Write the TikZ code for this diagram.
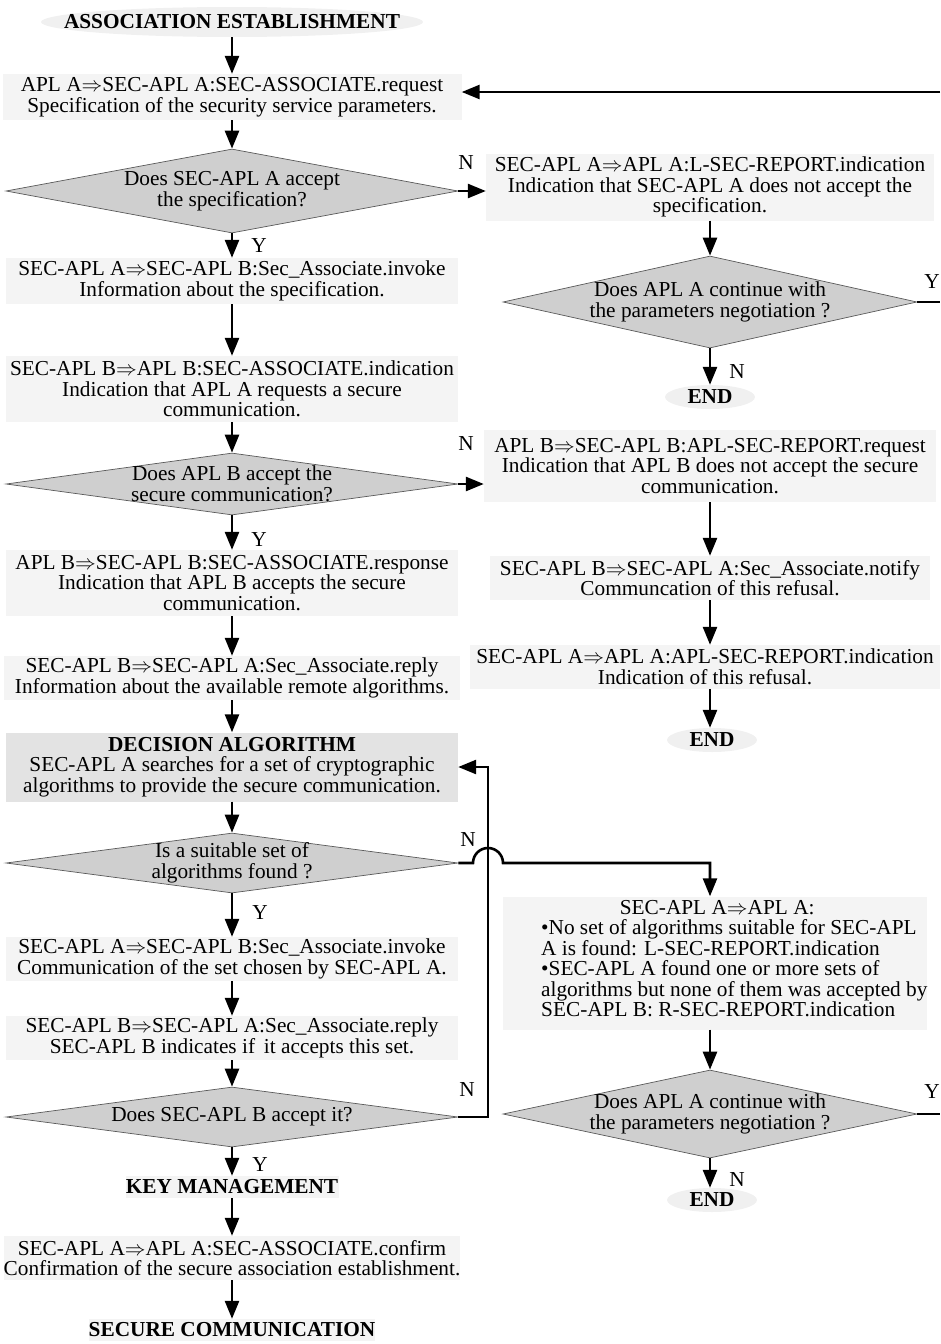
\documentclass[tikz,border=0pt]{standalone}
\usepackage{fontspec}
\setmainfont{Liberation Serif}
\usetikzlibrary{shapes.geometric,arrows.meta}
\newcommand{\RA}{$\Rightarrow$}
\newcommand{\fs}{\fontsize{21.3}{20.5}\selectfont}
\begin{document}
\begin{tikzpicture}[x=1pt,y=-1pt,
  every node/.style={font=\fs, inner sep=0pt},
  txtbox/.style={rectangle, fill=gray!9, align=center},
  darkbox/.style={rectangle, fill=gray!22, align=center},
  dia/.style={diamond, fill=gray!38, draw=black!65, line width=0.7pt},
  dtxt/.style={align=center},
  oval/.style={ellipse, fill=gray!12},
  boldtxt/.style={font=\fs\bfseries},
  flow/.style={line width=2.6pt, -{Triangle[length=18pt,width=14pt]}},
  wire/.style={line width=2.6pt},
  lbl/.style={font=\fs}
]
\useasboundingbox (0,0) rectangle (940,1344);

% ---------------- main column ----------------
\node[oval, minimum width=382, minimum height=30] (title) at (232,22) {};
\node[boldtxt] (titlet) at (title) {ASSOCIATION ESTABLISHMENT};
\node[txtbox, minimum width=459, minimum height=46] (b1) at (232,97)
  {APL A\RA SEC-APL A:SEC-ASSOCIATE.request\\Specification of the security service parameters.};
\node[dia, minimum width=452, minimum height=84] (d1) at (232,191) {};
\node[dtxt] (d1t) at (d1) {Does SEC-APL A accept\\the specification?};
\node[txtbox, minimum width=452, minimum height=46] (b2) at (232,281)
  {SEC-APL A\RA SEC-APL B:Sec\_Associate.invoke\\Information about the specification.};
\node[txtbox, minimum width=452, minimum height=66] (b3) at (232,389)
  {SEC-APL B\RA APL B:SEC-ASSOCIATE.indication\\Indication that APL A requests a secure\\communication.};
\node[dia, minimum width=452, minimum height=62] (d2) at (232,484) {};
\node[dtxt] (d2t) at (d2) {Does APL B accept the\\secure communication?};
\node[txtbox, minimum width=452, minimum height=66] (b4) at (232,583)
  {APL B\RA SEC-APL B:SEC-ASSOCIATE.response\\Indication that APL B accepts the secure\\communication.};
\node[txtbox, minimum width=456, minimum height=44] (b5) at (232,678)
  {SEC-APL B\RA SEC-APL A:Sec\_Associate.reply\\Information about the available remote algorithms.};
\node[darkbox, minimum width=452, minimum height=69] (b6) at (232,767)
  {\textbf{DECISION ALGORITHM}\\SEC-APL A searches for a set of cryptographic\\algorithms to provide the secure communication.};
\node[dia, minimum width=452, minimum height=60] (d3) at (232,863) {};
\node[dtxt] (d3t) at (d3) {Is a suitable set of\\algorithms found ?};
\node[txtbox, minimum width=452, minimum height=44] (b7) at (232,959)
  {SEC-APL A\RA SEC-APL B:Sec\_Associate.invoke\\Communication of the set chosen by SEC-APL A.};
\node[txtbox, minimum width=452, minimum height=44] (b8) at (232,1038)
  {SEC-APL B\RA SEC-APL A:Sec\_Associate.reply\\SEC-APL B indicates if\, it accepts this set.};
\node[dia, minimum width=452, minimum height=60] (d4) at (232,1117) {};
\node[dtxt] (d4t) at (d4) {Does SEC-APL B accept it?};
\node[txtbox, boldtxt, minimum width=213, minimum height=22] (km) at (232,1187) {KEY MANAGEMENT};
\node[txtbox, minimum width=456, minimum height=44] (b9) at (232,1258)
  {SEC-APL A\RA APL A:SEC-ASSOCIATE.confirm\\Confirmation of the secure association establishment.};
\node[txtbox, boldtxt, minimum width=286, minimum height=22] (sc) at (232,1330) {SECURE COMMUNICATION};

% ---------------- side column ----------------
\node[txtbox, minimum width=448, minimum height=67] (r1) at (710,187)
  {SEC-APL A\RA APL A:L-SEC-REPORT.indication\\Indication that SEC-APL A does not accept the\\specification.};
\node[dia, minimum width=414, minimum height=92] (r2) at (710,302) {};
\node[dtxt] (r2t) at (r2) {Does APL A continue with\\the parameters negotiation ?};
\node[oval, minimum width=90, minimum height=24] (e1) at (710,397) {};
\node[boldtxt] (e1t) at (e1) {END};
\node[txtbox, minimum width=452, minimum height=72] (r3) at (710,466)
  {APL B\RA SEC-APL B:APL-SEC-REPORT.request\\Indication that APL B does not accept the secure\\communication.};
\node[txtbox, minimum width=440, minimum height=44] (r4) at (710,578)
  {SEC-APL B\RA SEC-APL A:Sec\_Associate.notify\\Communcation of this refusal.};
\node[txtbox, minimum width=470, minimum height=44] (r5) at (705,667)
  {SEC-APL A\RA APL A:APL-SEC-REPORT.indication\\Indication of this refusal.};
\node[oval, minimum width=90, minimum height=24] (e2) at (712,740) {};
\node[boldtxt] (e2t) at (e2) {END};
\node[txtbox, minimum width=424, minimum height=133] (r6) at (715,963) {};
\node[anchor=north west] (r6t) at (541,900)
  {\begin{minipage}{395pt}\fs
   \centering\hspace*{-43pt}SEC-APL A\RA APL A:\par
   \raggedright •No set of algorithms suitable for SEC-APL\\
   A is found: L-SEC-REPORT.indication\\
   •SEC-APL A found one or more sets of\\
   algorithms but none of them was accepted by\\
   SEC-APL B: R-SEC-REPORT.indication\end{minipage}};
\node[dia, minimum width=414, minimum height=88] (r7) at (710,1114) {};
\node[dtxt] (r7t) at (r7) {Does APL A continue with\\the parameters negotiation ?};
\node[oval, minimum width=90, minimum height=24] (e3) at (712,1200) {};
\node[boldtxt] (e3t) at (e3) {END};

% ---------------- branch labels ----------------
\node[lbl] (n1) at (466,163) {N};
\node[lbl] (y1) at (259,246) {Y};
\node[lbl] (n2) at (466,444) {N};
\node[lbl] (y2) at (259,540) {Y};
\node[lbl] (n3) at (468,840) {N};
\node[lbl] (y3) at (260,913) {Y};
\node[lbl] (n4) at (467,1090) {N};
\node[lbl] (y4) at (260,1165) {Y};
\node[lbl] (y5) at (932,282) {Y};
\node[lbl] (n5) at (737,372) {N};
\node[lbl] (y6) at (932,1092) {Y};
\node[lbl] (n6) at (737,1180) {N};

% ---------------- connectors ----------------
\coordinate (edge) at (940,92);
\coordinate (lp) at (488,0);
\coordinate (rc) at (710,0);

\draw[flow] (title) -- (b1);
\draw[flow] (b1) -- (d1);
\draw[flow] (d1) -- (b2);
\draw[flow] (b2) -- (b3);
\draw[flow] (b3) -- (d2);
\draw[flow] (d2) -- (b4);
\draw[flow] (b4) -- (b5);
\draw[flow] (b5) -- (b6);
\draw[flow] (b6) -- (d3);
\draw[flow] (d3) -- (b7);
\draw[flow] (b7) -- (b8);
\draw[flow] (b8) -- (d4);
\draw[flow] (d4) -- (km);
\draw[flow] (km) -- (b9);
\draw[flow] (b9) -- (sc);

\draw[flow] (d1.east) -- (d1.east -| r1.west);
\draw[flow] (d2.east) -- (d2.east -| r3.west);
\draw[flow] (edge) -- (edge -| b1.east);

\draw[flow] (r1) -- (r2);
\draw[flow] (r2) -- (e1.north -| rc);
\draw[flow] (r3) -- (r4);
\draw[flow] (r4.south -| rc) -- (r5.north -| rc);
\draw[flow] (r5.south -| rc) -- (e2.north -| rc);
\draw[flow] (r6.south -| rc) -- (r7.north);
\draw[flow] (r7) -- (e3.north -| rc);

\draw[wire] (r2.east) -- (r2.east -| edge);
\draw[wire] (r7.east) -- (r7.east -| edge);

% loop back into the decision algorithm
\draw[flow] (d4.east) -- (d4.east -| lp) -- (lp |- b6.east) -- (b6.east);
% failure branch hopping over the loop line
\draw[flow] (d3.east) -- ([xshift=-15pt]d3.east -| lp)
  arc[start angle=180, end angle=0, radius=15pt]
  -- (d3.east -| rc) -- (r6.north -| rc);
\end{tikzpicture}
\end{document}
